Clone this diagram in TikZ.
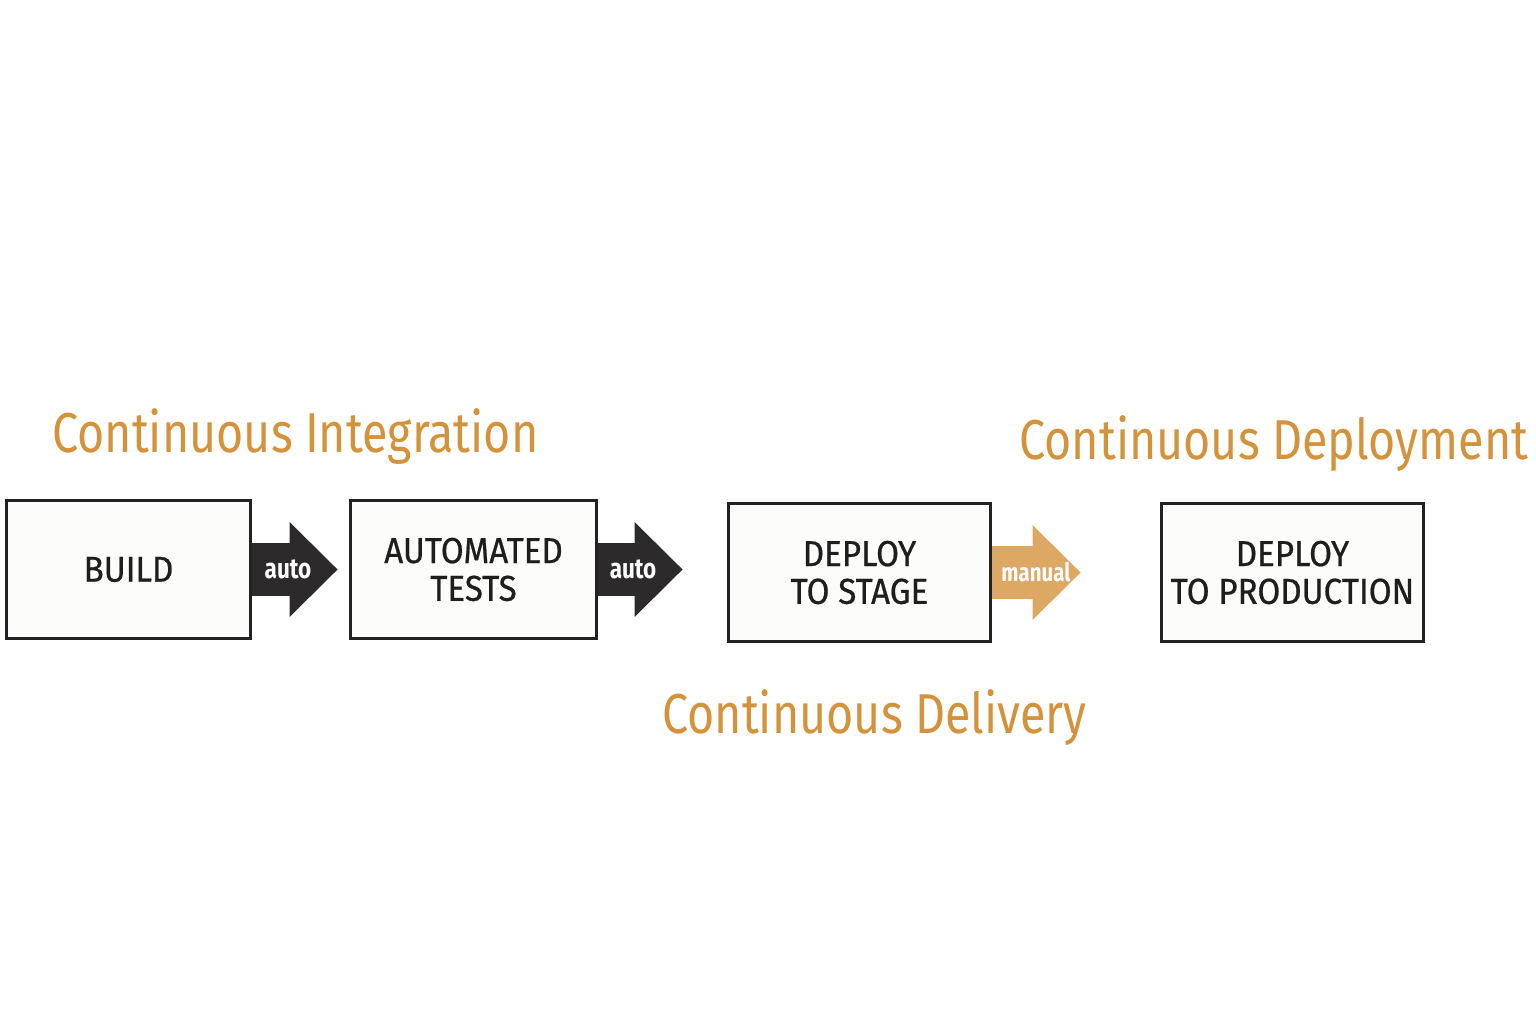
\documentclass[tikz,border=0pt]{standalone}
\usepackage{fontspec}
\setmainfont{Fira Sans}
\newfontfamily\phasefont{Fira Sans}[FakeStretch=0.83]
\newfontfamily\stagefont{Fira Sans}[FakeStretch=0.92,FakeBold=0.6]
\newfontfamily\flowfont{Fira Sans}[FakeStretch=0.8]
\usetikzlibrary{arrows.meta}

\definecolor{titleorange}{HTML}{D4923A}
\definecolor{flowdark}{HTML}{2D2A2B}
\definecolor{flowtan}{HTML}{DCA863}
\definecolor{boxline}{HTML}{222222}
\definecolor{boxfill}{HTML}{FCFCFA}
\definecolor{boxtext}{HTML}{1E1E1E}

\begin{document}
\begin{tikzpicture}[x=0.02cm,y=-0.02cm,
  stagebox/.style={draw=boxline,line width=1.7pt,fill=boxfill,minimum height=2.78cm,
    align=center,inner sep=0pt,text=boxtext,font=\stagefont\fontsize{20.5}{21.5}\selectfont},
  phase/.style={text=titleorange,inner sep=0pt,anchor=base west,font=\phasefont\fontsize{32}{38}\selectfont},
  flow/.style={line width=1.06cm,-{Triangle[length=0.96cm 0,width=1.9cm 0,line width=0pt]}},
  flowlabel/.style={text=white,inner sep=0pt,font=\flowfont\bfseries\fontsize{16}{18}\selectfont}]

\useasboundingbox (0,0) rectangle (1536,1024);

\node [phase] (ci) at (52,452)   {Continuous Integration};
\node [phase] (cdep) at (1019,459) {Continuous Deployment};
\node [phase] (cdel) at (662,733) {Continuous Delivery};

\node [stagebox,minimum width=4.9cm]  (build) at (128.5,569.5) {BUILD};
\node [stagebox,minimum width=4.94cm] (tests) at (473.5,569.5) {AUTOMATED\\TESTS};
\node [stagebox,minimum width=5.26cm] (stage) at (859.5,572.5) {DEPLOY\\TO STAGE};
\node [stagebox,minimum width=5.26cm] (prod)  at (1292.5,572.5) {DEPLOY\\TO PRODUCTION};

\draw [flow,flowdark,shorten >=0.22cm] (build.east) -- (tests.west)
    node [flowlabel,pos=0.37] (auto1) {auto};
\draw [flow,flowdark,shorten >=0.88cm] (tests.east) -- (tests.east -| stage.west)
    node [flowlabel,pos=0.27] (auto2) {auto};
\draw [flow,flowtan,shorten >=1.58cm] (stage.east) -- (prod.west)
    node [flowlabel,pos=0.26,font=\flowfont\bfseries\fontsize{14.5}{17}\selectfont] (manual) {manual};

\end{tikzpicture}
\end{document}
